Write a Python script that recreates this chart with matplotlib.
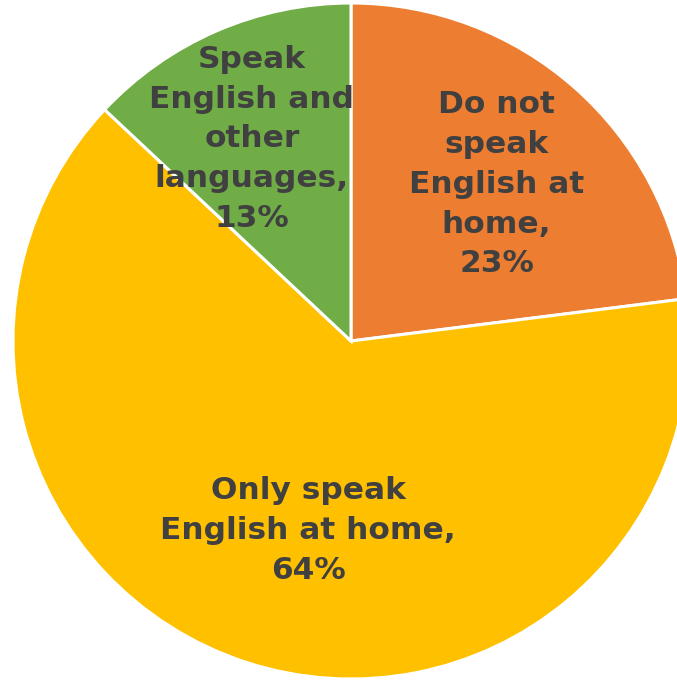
import numpy as np
import matplotlib.pyplot as plt

# Language spoken at home
labels = ['Do not\nspeak\nEnglish at\nhome,', 'Only speak\nEnglish at home,', 'Speak\nEnglish and\nother\nlanguages,']
shares = [23, 64, 13]
colors = ['#ED7D31', '#FFC000', '#70AD47']
label_dist = [0.633, 0.574, 0.666]
label_turn = [-1.5, 5.2, 2.7]   # degrees off the wedge middle

W, H = 677, 681
fig = plt.figure(figsize=(W / 100, H / 100), dpi=100)
ax = fig.add_axes([0, 0, 1, 1])

cx, cy, r = 351, H - 341, 338
wedges, _ = ax.pie(shares, colors=colors, startangle=90, counterclock=False,
                   center=(cx, cy), radius=r, frame=True,
                   wedgeprops=dict(edgecolor='white', linewidth=2.2))
ax.set_xlim(0, W)
ax.set_ylim(0, H)
ax.set_aspect('equal')
ax.axis('off')

for w, lab, val, d, t in zip(wedges, labels, shares, label_dist, label_turn):
    ang = np.deg2rad((w.theta1 + w.theta2) / 2 + t)
    x = cx + d * r * np.cos(ang)
    y = cy + d * r * np.sin(ang)
    ax.text(x, y, f'{lab}\n{val}%', ha='center', va='center', fontsize=22.5,
            fontweight='bold', color='#404040', linespacing=1.47,
            family='DejaVu Sans')

fig.savefig('out.png', dpi=100)
